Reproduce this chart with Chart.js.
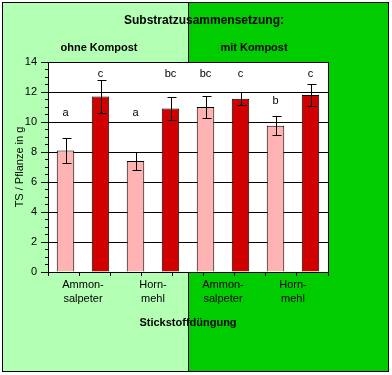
<!DOCTYPE html>
<html>
<head>
<meta charset="utf-8">
<script src="https://cdn.jsdelivr.net/npm/chart.js@4.4.0/dist/chart.umd.min.js"></script>
<style>
body { margin: 0; background: #fff; }
</style>
</head>
<body>
<canvas id="grafica" width="392" height="375"></canvas>
<script>
// Daten
var gruppen = [["Ammon-", "salpeter"], ["Horn-", "mehl"], ["Ammon-", "salpeter"], ["Horn-", "mehl"]];
var werte_hell = [8.1, 7.4, 11.0, 9.75];
var werte_dunkel = [11.7, 10.9, 11.55, 11.8];
var fehler_hell = [0.85, 0.57, 0.73, 0.62];
var fehler_dunkel = [1.1, 0.75, 0.43, 0.73];
var buchstaben_hell = ["a", "a", "bc", "b"];
var buchstaben_dunkel = ["c", "bc", "c", "c"];

var schrift = "Arial, 'Liberation Sans', sans-serif";

// Hintergrund, Rahmen und Ueberschriften
var hintergrund = {
    id: "hintergrund",
    beforeDraw: function (chart) {
        var ctx = chart.ctx;
        var a = chart.chartArea;
        var x = chart.scales.x;
        var teilung = Math.round((x.getPixelForValue(1) + x.getPixelForValue(2)) / 2);
        ctx.save();
        ctx.fillStyle = "#ffffff";
        ctx.fillRect(0, 0, chart.width, chart.height);
        ctx.fillStyle = "#b3ffb3";
        ctx.fillRect(2, 2, teilung - 2, 370);
        ctx.fillStyle = "#00cc00";
        ctx.fillRect(teilung, 2, 389 - teilung, 370);
        ctx.strokeStyle = "#000";
        ctx.lineWidth = 1;
        ctx.beginPath();
        ctx.moveTo(teilung + 0.5, 2);
        ctx.lineTo(teilung + 0.5, 372);
        ctx.stroke();
        ctx.strokeRect(2.5, 2.5, 386, 369);
        ctx.fillStyle = "#ffffff";
        ctx.fillRect(a.left, a.top, a.right - a.left, a.bottom - a.top);

        ctx.fillStyle = "#000";
        ctx.textAlign = "center";
        ctx.textBaseline = "middle";
        ctx.font = "bold 12px " + schrift;
        ctx.fillText("Substratzusammensetzung:", 204, 21);
        ctx.font = "bold 11px " + schrift;
        ctx.fillText("ohne Kompost", 99, 48);
        ctx.fillText("mit Kompost", 254, 48);
        ctx.restore();
    },
    afterDraw: function (chart) {
        var ctx = chart.ctx;
        var a = chart.chartArea;
        ctx.save();
        ctx.strokeStyle = "#000";
        ctx.lineWidth = 1;
        ctx.beginPath();
        ctx.moveTo(Math.round(a.right) + 0.5, a.top);
        ctx.lineTo(Math.round(a.right) + 0.5, a.bottom);
        ctx.stroke();
        ctx.restore();
    }
};

// Fehlerbalken und Buchstaben
var fehlerbalken = {
    id: "fehlerbalken",
    afterDatasetsDraw: function (chart, args, opts) {
        var ctx = chart.ctx;
        var y = chart.scales.y;
        ctx.save();
        ctx.strokeStyle = "#000";
        ctx.lineWidth = 1;
        ctx.fillStyle = "#000";
        ctx.font = "11px " + schrift;
        ctx.textAlign = "center";
        ctx.textBaseline = "middle";
        chart.data.datasets.forEach(function (ds, d) {
            var meta = chart.getDatasetMeta(d);
            meta.data.forEach(function (bar, i) {
                var v = ds.data[i];
                var e = ds.fehler[i];
                var bx = Math.round(bar.x) + 0.5;
                var y1 = Math.round(y.getPixelForValue(v + e)) + 0.5;
                var y2 = Math.round(y.getPixelForValue(v - e)) + 0.5;
                ctx.beginPath();
                ctx.moveTo(bx, y1);
                ctx.lineTo(bx, y2);
                ctx.moveTo(bx - 4, y1);
                ctx.lineTo(bx + 5, y1);
                ctx.moveTo(bx - 4, y2);
                ctx.lineTo(bx + 5, y2);
                ctx.stroke();
                ctx.fillText(ds.buchstaben[i], bar.x, y.getPixelForValue(opts.hoehe[d][i]));
            });
        });
        ctx.restore();
    }
};

var datos = {
    type: "bar",
    data: {
        labels: gruppen,
        datasets: [{
            label: "hell",
            data: werte_hell,
            fehler: fehler_hell,
            buchstaben: buchstaben_hell,
            backgroundColor: "#ffb3b3",
            borderColor: "#000",
            borderWidth: 1,
            barPercentage: 0.5,
            categoryPercentage: 1
        }, {
            label: "dunkel",
            data: werte_dunkel,
            fehler: fehler_dunkel,
            buchstaben: buchstaben_dunkel,
            backgroundColor: "#d00000",
            borderColor: "#000",
            borderWidth: 1,
            barPercentage: 0.5,
            categoryPercentage: 1
        }]
    },
    options: {
        responsive: false,
        animation: false,
        layout: { padding: { left: 0, top: 62, right: 64, bottom: 0 } },
        plugins: {
            legend: { display: false },
            tooltip: { enabled: false },
            fehlerbalken: {
                hoehe: [[10.6, 10.6, 13.2, 11.4], [13.2, 13.2, 13.2, 13.2]]
            }
        },
        scales: {
            x: {
                type: "category",
                position: "bottom",
                weight: 1,
                grid: { display: false, drawTicks: false },
                border: { display: false },
                ticks: {
                    color: "#000",
                    font: { family: schrift, size: 11, lineHeight: 1.36 },
                    padding: 5,
                    maxRotation: 0,
                    autoSkip: false
                },
                title: {
                    display: true,
                    text: "Stickstoffdüngung",
                    color: "#000",
                    font: { family: schrift, size: 11, weight: "bold" },
                    padding: { top: 0, bottom: 45 }
                },
                afterFit: function (s) { s.height = 103; }
            },
            x2: {
                type: "linear",
                position: "bottom",
                weight: 0,
                min: 0,
                max: 8,
                ticks: { display: false, stepSize: 1 },
                grid: { drawOnChartArea: false, tickLength: 4, color: "#000" },
                border: { display: true, color: "#000" },
                afterFit: function (s) { s.height = 0; }
            },
            y: {
                type: "linear",
                position: "left",
                weight: 1,
                min: 0,
                max: 14,
                ticks: {
                    stepSize: 2,
                    color: "#000",
                    font: { family: schrift, size: 11 },
                    padding: 4
                },
                grid: { color: "#000", tickLength: 7 },
                border: { display: true, color: "#000" },
                title: {
                    display: true,
                    text: "TS / Pflanze in g",
                    color: "#000",
                    font: { family: schrift, size: 11 },
                    padding: { top: 13, bottom: 0 }
                },
                afterFit: function (s) { s.width = 48; }
            },
            y2: {
                type: "linear",
                position: "left",
                weight: 0,
                min: 0,
                max: 14,
                ticks: { display: false, stepSize: 0.5, maxTicksLimit: 100 },
                grid: { drawOnChartArea: false, tickLength: 3, color: "#000" },
                border: { display: false },
                afterFit: function (s) { s.width = 0; }
            }
        }
    },
    plugins: [hintergrund, fehlerbalken]
};

var grafica = new Chart(document.getElementById("grafica"), datos);
</script>
</body>
</html>
